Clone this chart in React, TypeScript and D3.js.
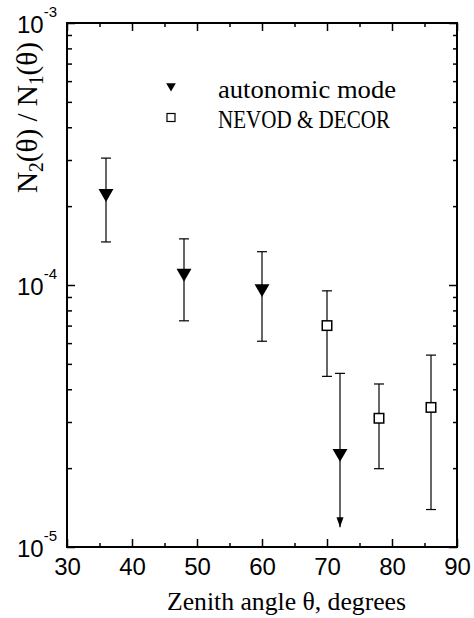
import React, { useEffect, useRef } from 'react';
import * as d3 from 'd3';

// autonomic mode (filled down triangles)
const autoAngles = [36, 48, 60, 72];
const autoValues = [2.24e-4, 1.11e-4, 9.7e-5, 2.28e-5];
const autoHigh = [3.05e-4, 1.5e-4, 1.34e-4, 4.6e-5];
const autoLow = [1.46e-4, 7.3e-5, 6.1e-5, 1.19e-5];
const autoUpperLimit = [false, false, false, true];

// NEVOD & DECOR (open squares)
const nevodAngles = [70, 78, 86];
const nevodValues = [7.0e-5, 3.1e-5, 3.41e-5];
const nevodHigh = [9.5e-5, 4.19e-5, 5.4e-5];
const nevodLow = [4.48e-5, 1.99e-5, 1.39e-5];

const xMajor = [30, 40, 50, 60, 70, 80, 90];
const xMinor = [35, 45, 55, 65, 75, 85];
const yDecades = [1e-5, 1e-4, 1e-3];
const yExponents = ['-5', '-4', '-3'];
const yMinor = [1e-5, 1e-4].flatMap(d => [2, 3, 4, 5, 6, 7, 8, 9].map(m => m * d));

const legendLabels = ['autonomic mode', 'NEVOD & DECOR'];

function App() {
    const ref = useRef<SVGSVGElement>(null);

    useEffect(() => {
        document.body.style.margin = '0';
        const svg = d3.select(ref.current);
        svg.selectAll('*').remove();

        const left = 67, right = 457, top = 23, bottom = 547;
        const x = d3.scaleLinear().domain([30, 90]).range([left, right]);
        const y = d3.scaleLog().domain([1e-5, 1e-3]).range([bottom, top]);

        const tickFont = "'Liberation Sans', Arial, sans-serif";
        const serif = "'Liberation Serif', 'Times New Roman', 'DejaVu Serif', serif";

        // x axes (bottom with labels, top without)
        const xb = svg.append('g').attr('transform', `translate(0,${bottom})`)
            .call(d3.axisBottom(x).tickValues(xMajor).tickSize(-8).tickPadding(11).tickFormat(d3.format('d')));
        svg.append('g').attr('transform', `translate(0,${bottom})`)
            .call(d3.axisBottom(x).tickValues(xMinor).tickSize(-4).tickFormat(() => ''));
        svg.append('g').attr('transform', `translate(0,${top})`)
            .call(d3.axisTop(x).tickValues(xMajor).tickSize(-8).tickFormat(() => ''));
        svg.append('g').attr('transform', `translate(0,${top})`)
            .call(d3.axisTop(x).tickValues(xMinor).tickSize(-4).tickFormat(() => ''));
        xb.attr('font-family', tickFont).attr('font-size', 24);
        xb.selectAll('text').attr('fill', '#000');

        // y axes
        svg.append('g').attr('transform', `translate(${left},0)`)
            .call(d3.axisLeft(y).tickValues(yDecades).tickSize(-8).tickFormat(() => ''));
        svg.append('g').attr('transform', `translate(${left},0)`)
            .call(d3.axisLeft(y).tickValues(yMinor).tickSize(-5).tickFormat(() => ''));
        svg.append('g').attr('transform', `translate(${right},0)`)
            .call(d3.axisRight(y).tickValues(yDecades).tickSize(-8).tickFormat(() => ''));
        svg.append('g').attr('transform', `translate(${right},0)`)
            .call(d3.axisRight(y).tickValues(yMinor).tickSize(-4).tickFormat(() => ''));

        svg.selectAll('.domain').remove();
        svg.selectAll('.tick line').attr('stroke', '#000').attr('stroke-width', 1.5);

        // frame
        svg.append('rect')
            .attr('x', left).attr('y', top)
            .attr('width', right - left).attr('height', bottom - top)
            .attr('fill', 'none').attr('stroke', '#000').attr('stroke-width', 2);

        // y decade labels 10^n
        const yl = svg.append('g').attr('font-family', tickFont).attr('fill', '#000');
        yDecades.forEach((d, i) => {
            const t = yl.append('text')
                .attr('x', 57).attr('y', y(d) + 10)
                .attr('text-anchor', 'end').attr('font-size', 24);
            t.append('tspan').text('10');
            t.append('tspan').attr('font-size', 15).attr('dy', -16).text(yExponents[i]);
        });

        // error bars
        const cap = 5;
        const bars = svg.append('g').attr('stroke', '#000').attr('stroke-width', 1.2).attr('fill', 'none');
        autoAngles.forEach((a, i) => {
            const cx = x(a);
            bars.append('line').attr('x1', cx).attr('x2', cx).attr('y1', y(autoHigh[i])).attr('y2', y(autoLow[i]));
            bars.append('line').attr('x1', cx - cap).attr('x2', cx + cap).attr('y1', y(autoHigh[i])).attr('y2', y(autoHigh[i]));
            if (autoUpperLimit[i]) {
                const tip = y(autoLow[i]);
                svg.append('path')
                    .attr('d', `M${cx},${tip} L${cx - 3.5},${tip - 10} L${cx + 3.5},${tip - 10} Z`)
                    .attr('fill', '#000');
            } else {
                bars.append('line').attr('x1', cx - cap).attr('x2', cx + cap).attr('y1', y(autoLow[i])).attr('y2', y(autoLow[i]));
            }
        });
        nevodAngles.forEach((a, i) => {
            const cx = x(a);
            bars.append('line').attr('x1', cx).attr('x2', cx).attr('y1', y(nevodHigh[i])).attr('y2', y(nevodLow[i]));
            bars.append('line').attr('x1', cx - cap).attr('x2', cx + cap).attr('y1', y(nevodHigh[i])).attr('y2', y(nevodHigh[i]));
            bars.append('line').attr('x1', cx - cap).attr('x2', cx + cap).attr('y1', y(nevodLow[i])).attr('y2', y(nevodLow[i]));
        });

        // markers
        const tri = d3.symbol(d3.symbolTriangle, 97);
        svg.append('g').selectAll('path')
            .data(autoAngles)
            .enter()
            .append('path')
            .attr('d', tri)
            .attr('transform', (d, i) => `translate(${x(d)},${y(autoValues[i])}) rotate(180)`)
            .attr('fill', '#000');

        const sq = 9.5;
        svg.append('g').selectAll('rect')
            .data(nevodAngles)
            .enter()
            .append('rect')
            .attr('x', d => x(d) - sq / 2)
            .attr('y', (d, i) => y(nevodValues[i]) - sq / 2)
            .attr('width', sq).attr('height', sq)
            .attr('fill', '#fff').attr('stroke', '#000').attr('stroke-width', 1.5);

        // legend
        svg.append('path')
            .attr('d', d3.symbol(d3.symbolTriangle, 40)())
            .attr('transform', 'translate(171,86) rotate(180)')
            .attr('fill', '#000');
        svg.append('rect')
            .attr('x', 167).attr('y', 113.5).attr('width', 8).attr('height', 8)
            .attr('fill', '#fff').attr('stroke', '#000').attr('stroke-width', 1.2);
        svg.append('text').attr('x', 218).attr('y', 97.5)
            .attr('font-family', serif).attr('font-size', 26)
            .attr('textLength', 178).attr('lengthAdjust', 'spacingAndGlyphs')
            .text(legendLabels[0]);
        svg.append('text').attr('x', 218).attr('y', 127.5)
            .attr('font-family', serif).attr('font-size', 26)
            .attr('textLength', 172).attr('lengthAdjust', 'spacingAndGlyphs')
            .text(legendLabels[1]);

        // axis titles
        svg.append('text').attr('x', 167).attr('y', 610)
            .attr('font-family', serif).attr('font-size', 25)
            .attr('textLength', 239).attr('lengthAdjust', 'spacingAndGlyphs')
            .text('Zenith angle \u03b8, degrees');

        const yt = svg.append('text')
            .attr('transform', 'translate(37,193) rotate(-90)')
            .attr('font-family', serif).attr('font-size', 30)
            .attr('textLength', 151).attr('lengthAdjust', 'spacingAndGlyphs');
        yt.append('tspan').text('N');
        yt.append('tspan').attr('font-size', 20).attr('dy', 6).text('2');
        yt.append('tspan').attr('dy', -6).text('(\u03b8) / N');
        yt.append('tspan').attr('font-size', 20).attr('dy', 6).text('1');
        yt.append('tspan').attr('dy', -6).text('(\u03b8)');
    }, []);

    return <svg ref={ref} width={474} height={618} style={{ display: 'block', background: '#fff' }}></svg>;
}

export default App;
